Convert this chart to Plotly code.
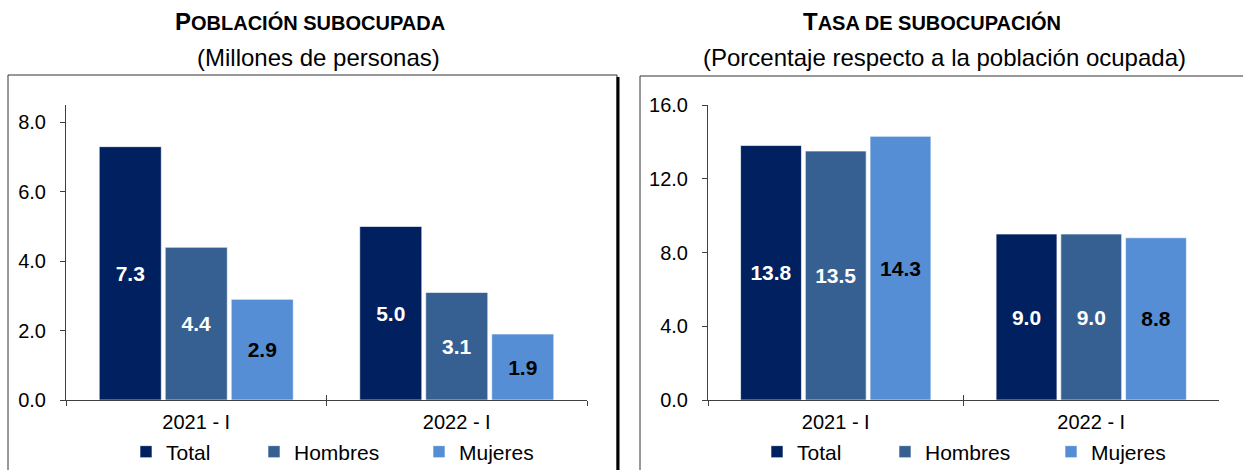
import plotly.graph_objects as go

periods = ["2021 - I", "2022 - I"]
series = ["Total", "Hombres", "Mujeres"]
colors = ["#002060", "#366092", "#558ED5"]
text_colors = ["white", "white", "black"]

poblacion = {
    "Total": [7.3, 5.0],
    "Hombres": [4.4, 3.1],
    "Mujeres": [2.9, 1.9],
}
tasa = {
    "Total": [13.8, 9.0],
    "Hombres": [13.5, 9.0],
    "Mujeres": [14.3, 8.8],
}

left_ticks = [0, 2, 4, 6, 8]
right_ticks = [0, 4, 8, 12, 16]

FONT = "Liberation Sans, Arial, sans-serif"
W, H = 1243, 470

def px_x(v):
    return v / W

def px_y(v):
    return 1 - v / H

# legend entry text starts (px) for each panel
left_legend_x = [126, 254, 419]
right_legend_x = [757, 885, 1051]

fig = go.Figure()

for i, s in enumerate(series):
    fig.add_trace(go.Bar(
        x=periods, y=poblacion[s], name=s, xaxis="x", yaxis="y",
        marker=dict(color=colors[i], line=dict(color="rgba(255,255,255,0.6)", width=1)),
        texttemplate="%{y:.1f}", textposition="inside", insidetextanchor="middle",
        textangle=0, constraintext="none",
        textfont=dict(color=text_colors[i], size=21, family=FONT, weight="bold"),
        legend="legend" if i == 0 else f"legend{i + 1}", showlegend=True, hoverinfo="skip",
    ))
for i, s in enumerate(series):
    fig.add_trace(go.Bar(
        x=periods, y=tasa[s], name=s, xaxis="x2", yaxis="y2",
        marker=dict(color=colors[i], line=dict(color="rgba(255,255,255,0.6)", width=1)),
        texttemplate="%{y:.1f}", textposition="inside", insidetextanchor="middle",
        textangle=0, constraintext="none",
        textfont=dict(color=text_colors[i], size=21, family=FONT, weight="bold"),
        legend=f"legend{i + 4}", showlegend=True, hoverinfo="skip",
    ))

# invisible helpers so the overlay axes carry the category boundaries (upper half of crossing ticks)
for xa in ["x3", "x4"]:
    fig.add_trace(go.Scatter(x=periods, y=[None, None], xaxis=xa,
                             yaxis="y" if xa == "x3" else "y2",
                             mode="markers", showlegend=False, hoverinfo="skip"))

axis_common = dict(
    showgrid=False, zeroline=False, showline=True, linecolor="#404040", linewidth=1,
    ticks="outside", ticklen=5, tickcolor="#404040", automargin=False,
    tickfont=dict(family=FONT, size=20, color="black"),
)

y_dom = [px_y(400), px_y(105)]

legend_common = dict(orientation="h", xref="container", yref="container",
                     xanchor="left", yanchor="middle",
                     font=dict(family=FONT, size=21, color="black"), itemwidth=30,
                     bgcolor="rgba(0,0,0,0)")

legends = {}
for i, lx in enumerate(left_legend_x + right_legend_x):
    key = "legend" if i == 0 else f"legend{i + 1}"
    legends[key] = dict(x=px_x(lx), y=px_y(452), **legend_common)

overlay_common = dict(type="category", tickson="boundaries", ticks="inside", ticklen=5,
                      tickcolor="#404040", showticklabels=False, showline=False,
                      showgrid=False, zeroline=False, automargin=False)

fig.update_layout(
    width=W, height=H,
    margin=dict(l=0, r=0, t=0, b=0, autoexpand=False),
    paper_bgcolor="white", plot_bgcolor="white",
    barmode="group", bargap=0.24, bargroupgap=0.06,
    font=dict(family=FONT, size=20, color="black"),
    xaxis=dict(domain=[px_x(66), px_x(587)], anchor="y", type="category",
               tickson="boundaries", ticklabelstandoff=4, **axis_common),
    yaxis=dict(domain=y_dom, anchor="x", range=[0, 8.5], tickvals=left_ticks,
               tickformat=".1f", ticklabelstandoff=10, **axis_common),
    xaxis2=dict(domain=[px_x(708), px_x(1219)], anchor="y2", type="category",
                tickson="boundaries", ticklabelstandoff=4, **axis_common),
    yaxis2=dict(domain=y_dom, anchor="x2", range=[0, 16], tickvals=right_ticks,
                tickformat=".1f", ticklabelstandoff=10, **axis_common),
    xaxis3=dict(overlaying="x", matches="x", anchor="y", **overlay_common),
    xaxis4=dict(overlaying="x2", matches="x2", anchor="y2", **overlay_common),
    **legends,
)

annotations = [
    dict(text="<b>P<span style='font-size:20px'>OBLACIÓN SUBOCUPADA</span></b>",
         x=px_x(310), y=px_y(22), size=24),
    dict(text="(Millones de personas)", x=px_x(318), y=px_y(58), size=24),
    dict(text="<b>T<span style='font-size:20px'>ASA DE SUBOCUPACIÓN</span></b>",
         x=px_x(932), y=px_y(22), size=24),
    dict(text="(Porcentaje respecto a la población ocupada)", x=px_x(944), y=px_y(58), size=24),
]
for a in annotations:
    size = a.pop("size")
    fig.add_annotation(xref="paper", yref="paper", showarrow=False,
                       xanchor="center", yanchor="middle",
                       font=dict(family=FONT, size=size, color="black"), **a)

shapes = [
    dict(type="rect", x0=px_x(8), x1=px_x(617), y0=-0.2, y1=px_y(75),
         line=dict(color="#333333", width=1)),
    dict(type="line", x0=px_x(618), x1=px_x(618), y0=-0.2, y1=px_y(77),
         line=dict(color="black", width=3)),
    dict(type="rect", x0=px_x(640), x1=1.2, y0=-0.2, y1=px_y(76),
         line=dict(color="#333333", width=1)),
]
for s in shapes:
    fig.add_shape(xref="paper", yref="paper", layer="above", **s)

fig.write_html("out.html", config={"responsive": False, "displayModeBar": False},
               post_script="document.body.style.margin='0';document.body.style.overflow='hidden';")
